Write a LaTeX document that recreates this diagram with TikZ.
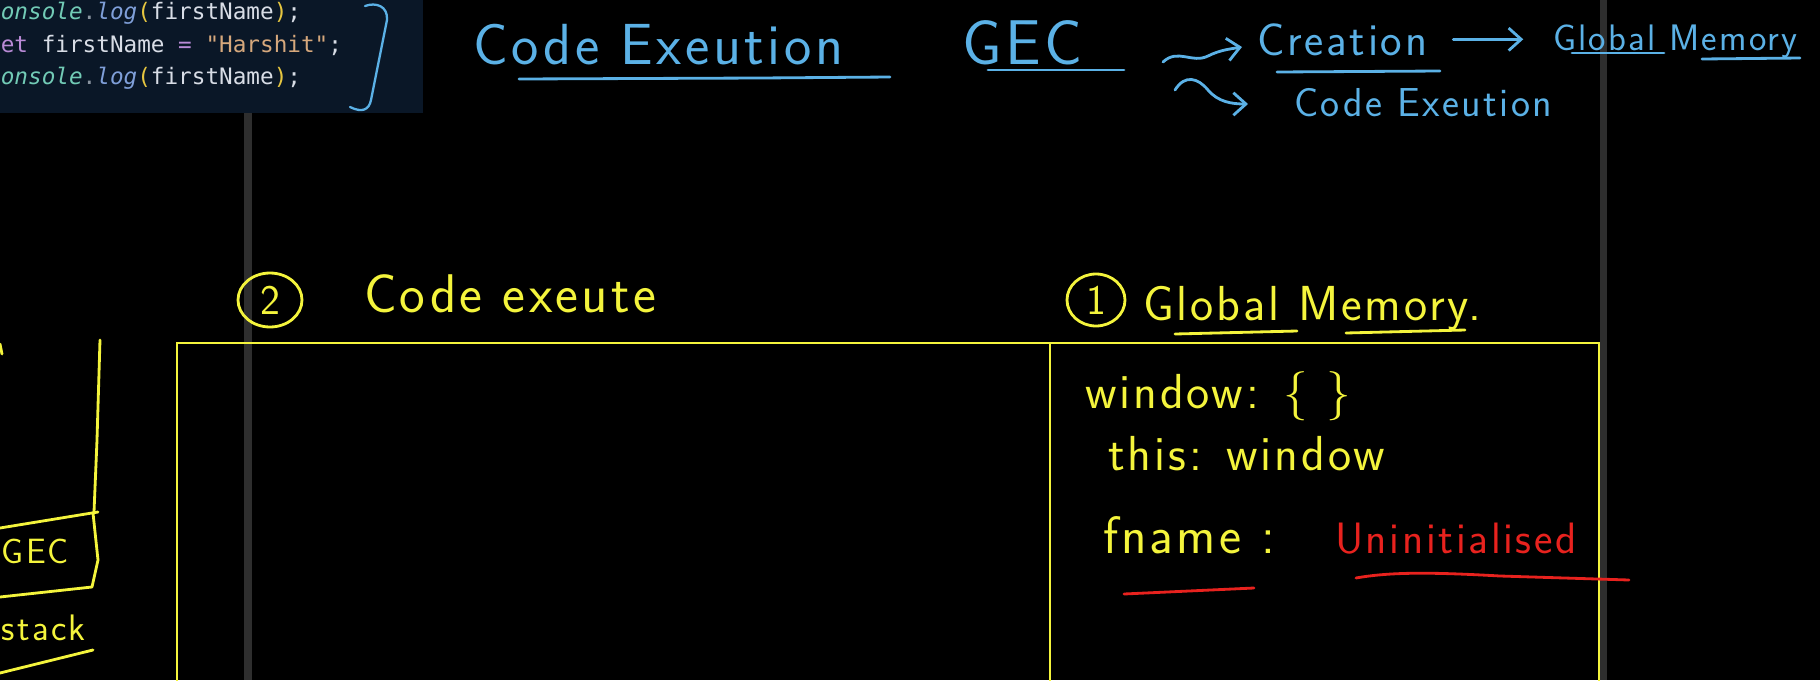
\documentclass[tikz,border=0pt]{standalone}
\usepackage{fontspec}
\setmonofont{DejaVu Sans Mono}
\newfontfamily\handfont[LetterSpace=6]{lmsans17-regular.otf}
\usetikzlibrary{arrows.meta,shapes.geometric}
\definecolor{penyellow}{HTML}{F4F43C}
\definecolor{penblue}{HTML}{5BB1E6}
\definecolor{penred}{HTML}{E8221E}
\definecolor{bargray}{HTML}{2E2E2E}
\definecolor{codebg}{HTML}{0A1727}
\definecolor{codeteal}{HTML}{72CBB6}
\definecolor{codeblue}{HTML}{7F9FD9}
\definecolor{codeyel}{HTML}{E6C640}
\definecolor{codeid}{HTML}{D8DDE6}
\definecolor{codepurple}{HTML}{B98AD6}
\definecolor{codestr}{HTML}{D6A87C}
\definecolor{codegray}{HTML}{8A94A0}
\newcommand\hw[1]{\handfont\fontsize{#1}{#1}\selectfont}
\newcommand\logline{\textcolor{codeteal}{\itshape onsole}\textcolor{codegray}{.}\textcolor{codeblue}{\itshape log}\textcolor{codeyel}{(}\textcolor{codeid}{firstName}\textcolor{codeyel}{)}\textcolor{codeid}{;}}
\tikzset{
  pen/.style={line width=1.6pt, line cap=round, line join=round},
  penarrow/.style={-{Straight Barb[length=2.5mm,width=4.5mm]}},
  hand/.style={anchor=base west, inner sep=0pt, outer sep=0pt},
  codeline/.style={anchor=base west, inner sep=0pt, font=\ttfamily\fontsize{12.9}{14}\selectfont},
  panel/.style={draw=penyellow, line width=1.4pt, inner sep=0pt},
  circled/.style={ellipse, draw=penyellow, pen, inner sep=0pt, text=penyellow}
}
\begin{document}
\begin{tikzpicture}[x=0.02cm, y=-0.02cm]
\clip (0,0) rectangle (1820,680);
\fill[black] (0,0) rectangle (1820,680);
\fill[bargray] (244,113) rectangle (252,680);
\fill[bargray] (1600,0) rectangle (1607,680);
\fill[codebg] (0,0) rectangle (423,113);

\node[codeline] (line1) at (0.5,19) {\logline};
\node[codeline] (line2) at (0.5,52) {\textcolor{codepurple}{et} \textcolor{codeid}{firstName} \textcolor{codepurple}{=} \textcolor{codestr}{"Harshit"}\textcolor{codeid}{;}};
\node[codeline] (line3) at (0.5,84) {\logline};
\draw[pen, penblue, line width=1.3pt] (365,6) .. controls (376,2) and (388,6) .. (387,20) -- (371,100) .. controls (369,110) and (362,113) .. (350,107);

\node[hand, font=\hw{33}, text=penblue] (title) at (473,64) {Code Exeution};
\draw[pen, penblue] (519,79) -- (760,78) -- (890,77);
\node[hand, font=\hw{36}, text=penblue] (gec) at (962,64) {GEC};
\draw[pen, penblue] (988,70) -- (1124,70);
\coordinate (sqstart) at (1163,62);
\node[hand, font=\hw{26}, text=penblue] (creation) at (1257,55) {Creation};
\draw[pen, penblue, penarrow] (sqstart) .. controls (1178,48) and (1192,64) .. (1208,56) .. controls (1220,50) and (1230,49) .. (1242,47);
\draw[pen, penblue] (1277,72) -- (1440,71);
\draw[pen, penblue, penarrow] ([xshift=0.52cm]creation.east) -- ++(70,0);
\node[hand, font=\hw{21}, text=penblue] (globalmem) at (1553,50) {Global Memory};
\draw[pen, penblue] (1572,53) -- (1664,53);
\draw[pen, penblue] (1702,59) -- (1800,58);
\coordinate (hookstart) at (1175,90);
\node[hand, font=\hw{23}, text=penblue] (codeexec) at (1294,116) {Code Exeution};
\draw[pen, penblue, penarrow] (hookstart) .. controls (1185,74) and (1198,78) .. (1208,90) .. controls (1218,102) and (1232,104) .. (1248,104);

\node[circled, minimum width=1.28cm, minimum height=1.08cm, font=\hw{24}] (circtwo) at (270,300) {2};
\node[hand, font=\hw{31}, text=penyellow] (execlabel) at (364,312) {Code exeute};
\node[circled, minimum width=1.16cm, minimum height=1.04cm, font=\hw{24}] (circone) at (1096,300) {1};
\node[hand, font=\hw{28}, text=penyellow] (memlabel) at (1143,320) {Global Memory.};
\draw[pen, penyellow] (1175,334) -- (1297,331);
\draw[pen, penyellow] (1346,333) -- (1465,330);

\node[panel, minimum width=17.46cm, minimum height=7.54cm] (execbox) at (613.5,531.5) {};
\node[panel, minimum width=10.98cm, minimum height=7.54cm] (membox) at (1324.5,531.5) {};
\node[hand, font=\hw{28}, text=penyellow] (win) at (1085,408) {window: \{ \}};
\node[hand, font=\hw{28}, text=penyellow] (thisline) at (1108,470) {this: window};
\node[hand, font=\hw{30}, text=penyellow] (fname) at (1103,553) {fname :};
\node[hand, font=\hw{25}, text=penred] (uninit) at (1335,553) {Uninitialised};
\draw[pen, penred] (1124,594) -- (1254,588);
\draw[pen, penred] (1356,578) .. controls (1390,572) and (1430,572) .. (1500,576) -- (1629,580);

\draw[pen, penyellow] (0,344) -- (2,354);
\draw[pen, penyellow] (100,340) -- (97,440) -- (94,512);
\draw[pen, penyellow] (0,528) -- (98,512);
\draw[pen, penyellow] (93,513) -- (98,560) -- (92,587) -- (0,597);
\node[hand, font=\hw{20}, text=penyellow] (leftgec) at (2,563) {GEC};
\node[hand, font=\hw{21}, text=penyellow] (leftstack) at (2,640) {stack};
\draw[pen, penyellow] (0,673) -- (93,650);
\end{tikzpicture}
\end{document}
